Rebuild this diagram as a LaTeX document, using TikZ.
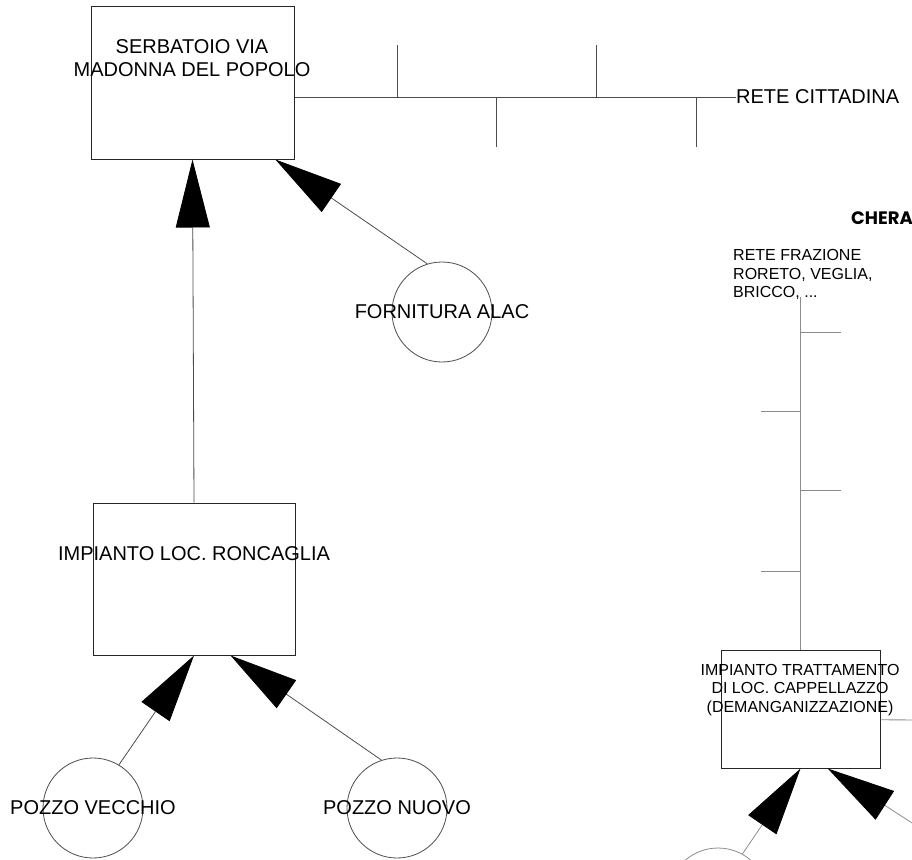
\documentclass[tikz,border=0pt]{standalone}
\usepackage{fontspec}
\setmainfont{Liberation Sans}
\newfontfamily\cherafont{Poppins}
\usepackage{tikz}
\usetikzlibrary{arrows.meta,positioning,calc}
\definecolor{linegray}{rgb}{0.30,0.30,0.30}
\definecolor{netgray}{rgb}{0.55,0.55,0.55}

\begin{document}
\begin{tikzpicture}[
  x=1pt, y=-1pt,
  box/.style={rectangle, draw=black!85, line width=1pt, inner sep=0pt},
  well/.style={circle, draw=linegray, line width=0.8pt, minimum size=100pt, inner sep=0pt},
  lbl/.style={align=center, inner sep=0pt, font=\fontsize{20}{23}\selectfont},
  small/.style={inner sep=0pt, font=\fontsize{16}{18.5}\selectfont},
  arr/.style={-{Triangle[length=68pt,width=34pt,color=black]}, line width=0.8pt, draw=linegray},
  net/.style={line width=0.9pt, draw=linegray},
  netr/.style={line width=0.9pt, draw=netgray},
]
\useasboundingbox (0,0) rectangle (912,859);
\clip (0,0) rectangle (912,859);

% tanks and plants
\node[box, minimum width=203pt, minimum height=152pt] (serb) at (192.5,83) {};
\node[lbl] (serbtxt) at (192,58.5) {SERBATOIO VIA\\MADONNA DEL POPOLO};
\node[box, minimum width=202pt, minimum height=152pt] (ronc) at (194,579) {};
\node[lbl] (ronctxt) at (194,554) {IMPIANTO LOC. RONCAGLIA};
\node[box, minimum width=159pt, minimum height=118pt] (capp) at (800.5,709) {};
\node[small, align=center] (capptxt) at (800,690) {IMPIANTO TRATTAMENTO\\DI LOC. CAPPELLAZZO\\(DEMANGANIZZAZIONE)};

% sources
\node[well, label={[lbl]center:FORNITURA ALAC}] (alac) at (442,312) {};
\node[well, label={[lbl]center:POZZO VECCHIO}] (pvec) at (93,808) {};
\node[well, label={[lbl]center:POZZO NUOVO}] (pnuo) at (397,808) {};
\node[well, draw=netgray] (pcap) at (718,898) {};
\coordinate (poff) at (954,850);

% town network
\node[lbl, anchor=west] (citta) at (736,97) {RETE CITTADINA};
\draw[net] (serb.east |- citta.west) -- (citta.west);
\foreach \tx/\ty in {397/45, 496/147, 596/45, 696/147}
  \draw[net] (\tx,97) -- (\tx,\ty);

% Chera side
\node[inner sep=0pt, anchor=east, font=\cherafont\bfseries\fontsize{18}{18}\selectfont] (chera) at (913,218) {CHERA};
\node[small, align=left, anchor=north west] (frazione) at (733,249.5) {RETE FRAZIONE\\RORETO, VEGLIA,\\BRICCO, ...};
\draw[netr] (capp.north |- 0,297) -- (capp.north);
\foreach \ty/\dx in {332/40, 411/-40, 490/40, 571/-40}
  \draw[netr] (capp.north |- 0,\ty) -- ++(\dx,0);
\coordinate (capout) at (912,720);
\draw[netr] ($(capp.north east)!0.59!(capp.south east)$) -- (capout);

% flows
\draw[arr] (ronc.north) -- (serb.south);
\draw[arr] (alac.107) -- ($(serb.south west)!0.906!(serb.south east)$);
\draw[arr] (pvec.59) -- (ronc.south);
\draw[arr] (pnuo.108) -- ($(ronc.south west)!0.68!(ronc.south east)$);
\draw[arr, draw=netgray] (pcap.61) -- (capp.south);
\draw[arr, draw=netgray] (poff) -- ($(capp.south west)!0.67!(capp.south east)$);
\end{tikzpicture}
\end{document}
